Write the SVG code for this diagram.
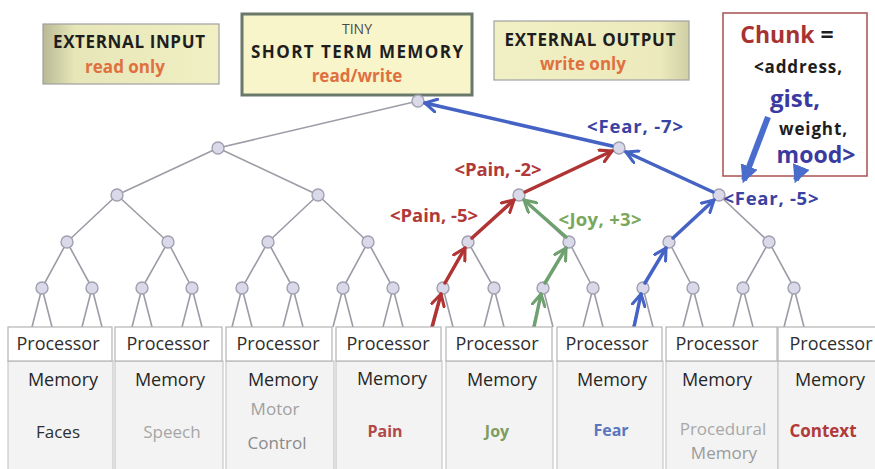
<svg xmlns="http://www.w3.org/2000/svg" width="875" height="469" viewBox="0 0 875 469">
  <style>
    text { font-family: "Open Sans", "Liberation Sans", sans-serif; text-anchor: middle; }
    .b { font-weight: bold; }
    .tree { stroke: #9c9ca6; stroke-width: 1.6; fill: none; }
    .node { fill: #d9d9ea; stroke: #a0a0b0; stroke-width: 1.4; }
    .proc { fill: #ffffff; stroke: #b4b4b4; stroke-width: 1.2; }
    .col { fill: #f3f3f3; stroke: #c8c8c8; stroke-width: 1.2; }
    .red { stroke: #b03434; stroke-width: 3.5; fill: none; stroke-linecap: round; }
    .grn { stroke: #6fa06f; stroke-width: 3.5; fill: none; stroke-linecap: round; }
    .blu { stroke: #4563c4; stroke-width: 3.5; fill: none; stroke-linecap: round; }
    .t-proc { font-size: 18px; fill: #2e2e2e; }
    .t-mem { font-size: 18px; fill: #262626; }
    .lbl { font-weight: bold; font-size: 18.5px; }
  </style>
  <defs>
    <linearGradient id="panelL" x1="0" y1="0" x2="1" y2="0">
      <stop offset="0" stop-color="#b9b996"/>
      <stop offset="0.18" stop-color="#e6e6b8"/>
      <stop offset="1" stop-color="#f1f0c4"/>
    </linearGradient>
    <linearGradient id="panelR" x1="0" y1="0" x2="1" y2="0">
      <stop offset="0" stop-color="#f1f0c4"/>
      <stop offset="0.85" stop-color="#eceabd"/>
      <stop offset="1" stop-color="#cfcfa6"/>
    </linearGradient>
    <marker id="ahR" viewBox="0 0 12 12" refX="10" refY="6" markerWidth="4.4" markerHeight="4.4" orient="auto" markerUnits="strokeWidth">
      <path d="M1,1 L10,6 L1,11" fill="none" stroke="#b03434" stroke-width="2.4" stroke-linecap="round" stroke-linejoin="round"/>
    </marker>
    <marker id="ahG" viewBox="0 0 12 12" refX="10" refY="6" markerWidth="4.4" markerHeight="4.4" orient="auto" markerUnits="strokeWidth">
      <path d="M1,1 L10,6 L1,11" fill="none" stroke="#6fa06f" stroke-width="2.4" stroke-linecap="round" stroke-linejoin="round"/>
    </marker>
    <marker id="ahB" viewBox="0 0 12 12" refX="10" refY="6" markerWidth="4.4" markerHeight="4.4" orient="auto" markerUnits="strokeWidth">
      <path d="M1,1 L10,6 L1,11" fill="none" stroke="#4563c4" stroke-width="2.4" stroke-linecap="round" stroke-linejoin="round"/>
    </marker>
    <marker id="ahFat" viewBox="0 0 10 10" refX="8" refY="5" markerWidth="3" markerHeight="3" orient="auto" markerUnits="strokeWidth">
      <path d="M0,0 L10,5 L0,10 Z" fill="#4a6ccc"/>
    </marker>
  </defs>

  <!-- top panels -->
  <g id="external-input">
    <rect x="43" y="24" width="176" height="60" fill="url(#panelL)" stroke="#a0a0a0" stroke-width="1.2"/>
    <text x="129" y="48" class="b" font-size="17" fill="#1e1e1e" textLength="152">EXTERNAL INPUT</text>
    <text x="125" y="73" class="b" font-size="17" fill="#e0703f">read only</text>
  </g>
  <g id="short-term-memory">
    <rect x="242" y="14" width="230" height="81" fill="#f7f5c9" stroke="#6a786a" stroke-width="3"/>
    <text x="357" y="34" font-size="14" fill="#4a4a4a">TINY</text>
    <text x="357" y="58" class="b" font-size="17" fill="#1e1e1e" textLength="212">SHORT TERM MEMORY</text>
    <text x="357" y="82" class="b" font-size="17" fill="#e0703f">read/write</text>
  </g>
  <g id="external-output">
    <rect x="494" y="21" width="195" height="59" fill="url(#panelR)" stroke="#a0a0a0" stroke-width="1.2"/>
    <text x="590" y="46" class="b" font-size="17" fill="#1e1e1e" textLength="171">EXTERNAL OUTPUT</text>
    <text x="583" y="70" class="b" font-size="17" fill="#e0703f">write only</text>
  </g>
  <g id="chunk-legend">
    <rect x="723" y="13" width="144" height="163" fill="#ffffff" stroke="#a85050" stroke-width="1.5"/>
    <text x="787" y="43" class="b" font-size="23"><tspan fill="#a83232">Chunk</tspan><tspan fill="#1e1e1e"> =</tspan></text>
    <text x="798" y="73" class="b" font-size="17" fill="#1e1e1e" textLength="88">&lt;address,</text>
    <text x="795" y="107" class="b" font-size="24" fill="#3a3aa0">gist,</text>
    <text x="813" y="135" class="b" font-size="17" fill="#1e1e1e" textLength="68">weight,</text>
    <text x="816" y="163" class="b" font-size="23" fill="#3a3aa0">mood&gt;</text>
  </g>

  <!-- tree connectors -->
  <g id="connectors">
    <path class="tree" d="M418,101 L218,148 M418,101 L619,148
      M218,148 L117,195 M218,148 L318,195 M619,148 L519,195 M619,148 L719,195
      M117,195 L67,242 M117,195 L168,242 M318,195 L268,242 M318,195 L368,242
      M519,195 L468,242 M519,195 L569,242 M719,195 L669,242 M719,195 L769,242
      M67,242 L42,288 M67,242 L92,288 M168,242 L142,288 M168,242 L192,288
      M268,242 L242,288 M268,242 L293,288 M368,242 L343,288 M368,242 L393,288
      M468,242 L443,288 M468,242 L494,288 M569,242 L543,288 M569,242 L593,288
      M669,242 L643,288 M669,242 L693,288 M769,242 L743,288 M769,242 L794,288
      M42,288 L32,327 M42,288 L52,327 M92,288 L82,327 M92,288 L102,327
      M142,288 L132,327 M142,288 L152,327 M192,288 L182,327 M192,288 L202,327
      M242,288 L232,327 M242,288 L252,327 M293,288 L283,327 M293,288 L303,327
      M343,288 L333,327 M343,288 L353,327 M393,288 L383,327 M393,288 L403,327
      M443,288 L433,327 M443,288 L453,327 M494,288 L484,327 M494,288 L504,327
      M543,288 L533,327 M543,288 L553,327 M593,288 L583,327 M593,288 L603,327
      M643,288 L633,327 M643,288 L653,327 M693,288 L683,327 M693,288 L703,327
      M743,288 L733,327 M743,288 L753,327 M794,288 L784,327 M794,288 L804,327"/>
  </g>

  <g id="tree-nodes">
    <circle class="node" cx="418" cy="101" r="6"/>
    <circle class="node" cx="218" cy="148" r="6"/>
    <circle class="node" cx="619" cy="148" r="6"/>
    <circle class="node" cx="117" cy="195" r="6"/>
    <circle class="node" cx="318" cy="195" r="6"/>
    <circle class="node" cx="519" cy="195" r="6"/>
    <circle class="node" cx="719" cy="195" r="6"/>
    <circle class="node" cx="67" cy="242" r="6"/>
    <circle class="node" cx="168" cy="242" r="6"/>
    <circle class="node" cx="268" cy="242" r="6"/>
    <circle class="node" cx="368" cy="242" r="6"/>
    <circle class="node" cx="468" cy="242" r="6"/>
    <circle class="node" cx="569" cy="242" r="6"/>
    <circle class="node" cx="669" cy="242" r="6"/>
    <circle class="node" cx="769" cy="242" r="6"/>
    <circle class="node" cx="42" cy="288" r="6"/>
    <circle class="node" cx="92" cy="288" r="6"/>
    <circle class="node" cx="142" cy="288" r="6"/>
    <circle class="node" cx="192" cy="288" r="6"/>
    <circle class="node" cx="242" cy="288" r="6"/>
    <circle class="node" cx="293" cy="288" r="6"/>
    <circle class="node" cx="343" cy="288" r="6"/>
    <circle class="node" cx="393" cy="288" r="6"/>
    <circle class="node" cx="443" cy="288" r="6"/>
    <circle class="node" cx="494" cy="288" r="6"/>
    <circle class="node" cx="543" cy="288" r="6"/>
    <circle class="node" cx="593" cy="288" r="6"/>
    <circle class="node" cx="643" cy="288" r="6"/>
    <circle class="node" cx="693" cy="288" r="6"/>
    <circle class="node" cx="743" cy="288" r="6"/>
    <circle class="node" cx="794" cy="288" r="6"/>
  </g>

  <g id="signal-paths">
    <!-- pain -->
    <path class="red" marker-end="url(#ahR)" d="M432,327 L441,294"/>
    <path class="red" marker-end="url(#ahR)" d="M445,283 L465,248"/>
    <path class="red" marker-end="url(#ahR)" d="M472,238 L514,200"/>
    <path class="red" marker-end="url(#ahR)" d="M525,192 L612,151"/>
    <!-- joy -->
    <path class="grn" marker-end="url(#ahG)" d="M534,327 L541,294"/>
    <path class="grn" marker-end="url(#ahG)" d="M545,283 L566,248"/>
    <path class="grn" marker-end="url(#ahG)" d="M566,237 L524,200"/>
    <!-- fear -->
    <path class="blu" marker-end="url(#ahB)" d="M634,327 L641,294"/>
    <path class="blu" marker-end="url(#ahB)" d="M645,283 L666,248"/>
    <path class="blu" marker-end="url(#ahB)" d="M673,238 L714,200"/>
    <path class="blu" marker-end="url(#ahB)" d="M713,192 L626,152"/>
    <path class="blu" stroke-width="4" marker-end="url(#ahB)" d="M612,146 L425,103"/>
    <!-- legend pointers -->
    <path stroke="#4a6ccc" stroke-width="6" fill="none" marker-end="url(#ahFat)" d="M768,117 L744,180"/>
    <path stroke="#4a6ccc" stroke-width="6" fill="none" marker-end="url(#ahFat)" d="M800,170 L796,180"/>
  </g>

  <g id="chunk-labels">
    <text x="635" y="133" class="lbl" fill="#3a42a2" textLength="96">&lt;Fear, -7&gt;</text>
    <text x="498" y="176" class="lbl" fill="#b03a3a" textLength="87">&lt;Pain, -2&gt;</text>
    <text x="434" y="222" class="lbl" fill="#b03a3a" textLength="88">&lt;Pain, -5&gt;</text>
    <text x="600" y="226" class="lbl" fill="#79a85d" textLength="83">&lt;Joy, +3&gt;</text>
    <text x="771" y="205" class="lbl" fill="#3a42a2" textLength="95">&lt;Fear, -5&gt;</text>
  </g>

  <!-- processor / memory modules -->
  <g id="module-faces">
    <rect class="col" x="8" y="361" width="105" height="112"/>
    <rect class="proc" x="8" y="327" width="104" height="34"/>
    <text class="t-proc" x="58" y="350">Processor</text>
    <text class="t-mem" x="63" y="386">Memory</text>
    <text x="58" y="438" font-size="17" fill="#2e2e2e">Faces</text>
  </g>
  <g id="module-speech">
    <rect class="col" x="115" y="361" width="108" height="112"/>
    <rect class="proc" x="115" y="327" width="107" height="34"/>
    <text class="t-proc" x="168" y="350">Processor</text>
    <text class="t-mem" x="170" y="386">Memory</text>
    <text x="172" y="438" font-size="17" fill="#a6a6a6">Speech</text>
  </g>
  <g id="module-motor">
    <rect class="col" x="226" y="361" width="108" height="112"/>
    <rect class="proc" x="226" y="327" width="106" height="34"/>
    <text class="t-proc" x="278" y="350">Processor</text>
    <text class="t-mem" x="283" y="386">Memory</text>
    <text x="275" y="415" font-size="17" fill="#a0a0a0">Motor</text>
    <text x="277" y="449" font-size="17" fill="#8a8a8a">Control</text>
  </g>
  <g id="module-pain">
    <rect class="col" x="336" y="361" width="106" height="112"/>
    <rect class="proc" x="336" y="327" width="105" height="34"/>
    <text class="t-proc" x="388" y="350">Processor</text>
    <text class="t-mem" x="392" y="385">Memory</text>
    <text x="385" y="437" class="b" font-size="16" fill="#b04a4a">Pain</text>
  </g>
  <g id="module-joy">
    <rect class="col" x="446" y="361" width="107" height="112"/>
    <rect class="proc" x="446" y="327" width="106" height="34"/>
    <text class="t-proc" x="497" y="350">Processor</text>
    <text class="t-mem" x="502" y="386">Memory</text>
    <text x="497" y="437" class="b" font-size="16" fill="#7e9c5e">Joy</text>
  </g>
  <g id="module-fear">
    <rect class="col" x="557" y="361" width="106" height="112"/>
    <rect class="proc" x="557" y="327" width="105" height="34"/>
    <text class="t-proc" x="607" y="350">Processor</text>
    <text class="t-mem" x="612" y="386">Memory</text>
    <text x="611" y="436" class="b" font-size="16" fill="#5a76bd">Fear</text>
  </g>
  <g id="module-procedural">
    <rect class="col" x="666" y="361" width="112" height="112"/>
    <rect class="proc" x="666" y="327" width="111" height="34"/>
    <text class="t-proc" x="717" y="350">Processor</text>
    <text class="t-mem" x="717" y="386">Memory</text>
    <text x="723" y="435" font-size="17" fill="#a8a8a8">Procedural</text>
    <text x="724" y="459" font-size="17" fill="#9a9a9a">Memory</text>
  </g>
  <g id="module-context">
    <rect class="col" x="778" y="361" width="100" height="112"/>
    <rect class="proc" x="778" y="327" width="100" height="34"/>
    <text class="t-proc" x="831" y="350">Processor</text>
    <text class="t-mem" x="830" y="386">Memory</text>
    <text x="823" y="437" class="b" font-size="17" fill="#b03a3a">Context</text>
  </g>
</svg>
